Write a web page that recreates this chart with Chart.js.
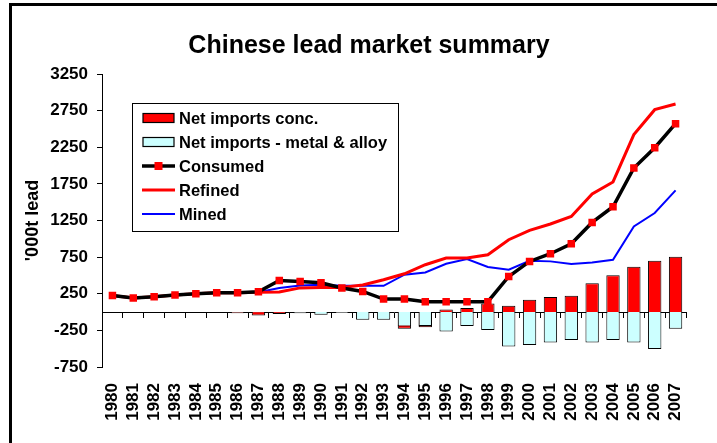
<!DOCTYPE html>
<html>
<head>
<meta charset="utf-8">
<script src="https://cdn.jsdelivr.net/npm/chart.js@4"></script>
<style>
  html, body { margin: 0; padding: 0; background: #fff; }
  #wrap { position: relative; width: 717px; height: 443px; overflow: hidden; }
  #frame { position: absolute; left: 9px; top: 3px; width: 720px; height: 437px; border: 3px solid #000; box-sizing: content-box; pointer-events: none; }
  #title { position: absolute; left: 169px; width: 400px; top: 30px; text-align: center;
           font: bold 25px "Liberation Sans", Arial, sans-serif; line-height: 28px; color: #000; }
  canvas { position: absolute; left: 0; top: 0; }
</style>
</head>
<body>
<div id="wrap">
  <canvas id="c" width="717" height="443"></canvas>
  <div id="frame"></div>
  <div id="title">Chinese lead market summary</div>
</div>
<script>
const years = ['1980','1981','1982','1983','1984','1985','1986','1987','1988','1989','1990','1991','1992','1993',
               '1994','1995','1996','1997','1998','1999','2000','2001','2002','2003','2004','2005','2006','2007'];
const netImportsConc = [null,null,null,null,null,null,-15,-46,-27,-10,0,-10,0,0,
                        -228,-209,35,55,118,87,169,205,223,392,501,619,701,756];
const netImportsMetal = [null,null,null,null,null,null,-10,-5,-5,-15,-36,-12,-105,-105,
                         -196,-190,-264,-191,-246,-469,-451,-414,-383,-414,-383,-414,-505,-228];
const consumed = [227,191,209,232,250,264,264,277,432,418,400,328,281,178,
                  178,141,141,141,141,486,691,796,933,1224,1438,1967,2244,2572];
const refined = [227,191,209,232,250,264,264,270,275,330,336,336,369,441,
                 523,646,737,737,783,988,1115,1202,1306,1612,1776,2422,2763,2841];
const mined = [227,191,209,232,250,264,264,270,328,364,373,359,359,359,
               510,541,660,724,615,578,701,692,656,678,714,1169,1352,1661];
const yTicks = { min: -750, max: 3250, step: 500 };
const yTitle = "'000t lead";

const FONT = '"Liberation Sans", Arial, sans-serif';

const boxLegend = {
  id: 'boxLegend',
  afterDraw(chart) {
    const ctx = chart.ctx;
    const ds = chart.data.datasets;
    ctx.save();
    ctx.fillStyle = '#fff';
    ctx.fillRect(132, 103, 266, 129);
    ctx.strokeStyle = '#000';
    ctx.lineWidth = 1;
    ctx.strokeRect(132.5, 103.5, 266, 128);
    const rowY0 = 118, step = 24.1;
    ds.forEach((d, i) => {
      const y = Math.round(rowY0 + i * step);
      if (d.type === 'bar') {
        ctx.fillStyle = d.backgroundColor;
        ctx.fillRect(143, y - 4.5, 31, 9);
        ctx.strokeStyle = '#000';
        ctx.lineWidth = 1.2;
        ctx.strokeRect(143, y - 4.5, 31, 9);
      } else {
        ctx.strokeStyle = d.borderColor;
        ctx.lineWidth = d.borderWidth;
        ctx.beginPath();
        ctx.moveTo(142, y);
        ctx.lineTo(175, y);
        ctx.stroke();
        if (d.pointRadius > 0) {
          ctx.fillStyle = d.pointBackgroundColor;
          ctx.fillRect(154.5, y - 4, 8, 8);
        }
      }
      ctx.fillStyle = '#000';
      ctx.font = 'bold 16.5px ' + FONT;
      ctx.textBaseline = 'middle';
      ctx.textAlign = 'left';
      ctx.fillText(d.label, 179, y + 1);
    });
    ctx.restore();
  }
};

new Chart(document.getElementById('c'), {
  data: {
    labels: years,
    datasets: [
      { type: 'bar', label: 'Net imports conc.', data: netImportsConc, backgroundColor: '#FF0000',
        borderColor: '#000', borderWidth: 1, barPercentage: 0.64, categoryPercentage: 1, order: 4 },
      { type: 'bar', label: 'Net imports - metal & alloy', data: netImportsMetal, backgroundColor: '#CCFFFF',
        borderColor: '#000', borderWidth: 1, barPercentage: 0.64, categoryPercentage: 1, order: 3 },
      { type: 'line', label: 'Consumed', data: consumed, borderColor: '#000', borderWidth: 3.5,
        pointStyle: 'rect', pointRadius: 5.3, pointBackgroundColor: '#FF0000', pointBorderColor: '#FF0000',
        pointBorderWidth: 0, tension: 0, fill: false, order: 0 },
      { type: 'line', label: 'Refined', data: refined, borderColor: '#FF0000', borderWidth: 3,
        pointRadius: 0, tension: 0, fill: false, order: 1 },
      { type: 'line', label: 'Mined', data: mined, borderColor: '#0000FF', borderWidth: 2,
        pointRadius: 0, tension: 0, fill: false, order: 2 }
    ]
  },
  options: {
    responsive: false,
    animation: false,
    devicePixelRatio: 1,
    layout: { padding: { left: 14, right: 31, top: 74, bottom: 0 } },
    plugins: {
      legend: { display: false },
      title: { display: false },
      tooltip: { enabled: false }
    },
    scales: {
      x: {
        type: 'category',
        position: 'bottom',
        stacked: true,
        offset: true,
        grid: { display: false, drawTicks: false },
        border: { display: false },
        ticks: { minRotation: 90, maxRotation: 90, autoSkip: false, padding: 16, color: '#000',
                 font: { family: FONT, size: 17, weight: 'bold' } },
        afterFit(s) { s.height = 76; }
      },
      x0: {
        type: 'category',
        position: { y: 0 },
        offset: true,
        grid: { offset: true, drawOnChartArea: false, drawTicks: true, tickLength: 5, color: '#000', lineWidth: 1 },
        border: { display: true, color: '#000', width: 1 },
        ticks: { display: false }
      },
      y: {
        type: 'linear',
        position: 'left',
        min: yTicks.min,
        max: yTicks.max,
        grid: { drawOnChartArea: false, drawTicks: true, tickLength: 5, color: '#000' },
        border: { display: true, color: '#000', width: 1 },
        ticks: { stepSize: yTicks.step, padding: 9, color: '#000',
                 callback: (v) => String(v),
                 font: { family: FONT, size: 17, weight: 'bold' } },
        title: { display: true, text: yTitle, color: '#000', padding: { top: 8, bottom: 0 },
                 font: { family: FONT, size: 18, weight: 'bold' } },
        afterFit(s) { s.width = 88; }
      }
    }
  },
  plugins: [boxLegend]
});
</script>
</body>
</html>
